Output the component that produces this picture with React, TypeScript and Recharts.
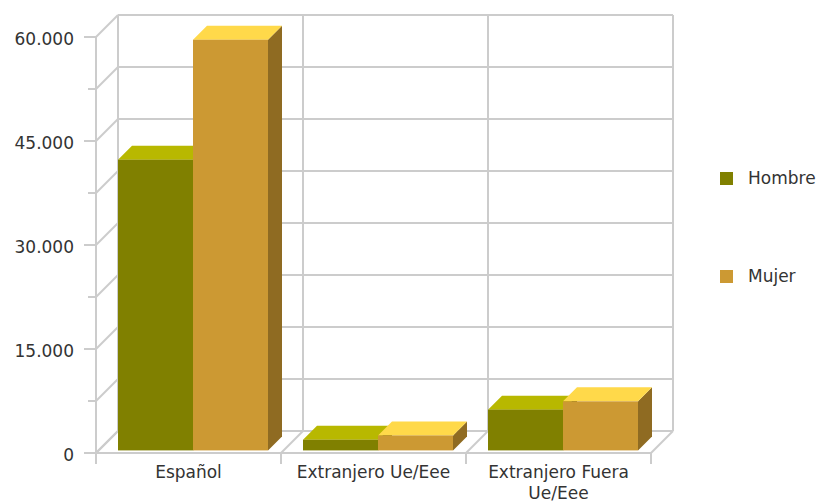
import { BarChart, Bar, XAxis, YAxis, CartesianGrid, Text } from 'recharts';

const categories = ['Español', 'Extranjero Ue/Eee', 'Extranjero Fuera Ue/Eee'];
const hombre = [41930, 1540, 5880];
const mujer = [59230, 2160, 7080];
const yTicks = [0, 7500, 15000, 22500, 30000, 37500, 45000, 52500, 60000];
const seriesNames = ['Hombre', 'Mujer'];

const data = categories.map((name, i) => ({ name, hombre: hombre[i], mujer: mujer[i] }));

const DEPTH = 22; // depth of the 3d box
const BAR_DEPTH = 14;
const GRID = '#cccccc';
const FONT = '"DejaVu Sans", sans-serif';
const TEXT = '#333333';

const colors = {
  hombre: { front: '#808000', top: '#b8b800', side: '#5c5c00' },
  mujer: { front: '#cc9933', top: '#ffd94a', side: '#8f6b22' },
};

const fmt = (v: number) => String(v).replace(/\B(?=(\d{3})+(?!\d))/g, '.');

function make3DBar(c: { front: string; top: string; side: string }) {
  return (props: any) => {
    const { x, y, width, height } = props;
    if (height == null || width == null) return null;
    // bars sit a little inside the box
    const bx = x + 4;
    const by = y - 2.6;
    const d = BAR_DEPTH;
    const r = bx + width;
    const b = by + height;
    return (
      <g>
        <polygon points={`${r},${by} ${r + d},${by - d} ${r + d},${b - d} ${r},${b}`} fill={c.side} />
        <polygon points={`${bx},${by} ${bx + d},${by - d} ${r + d},${by - d} ${r},${by}`} fill={c.top} />
        <rect x={bx} y={by} width={width} height={height} fill={c.front} />
      </g>
    );
  };
}

const horizontalLine = (p: any) => {
  const { x1, y1, x2 } = p;
  return (
    <g key={p.key}>
      <line x1={x1} y1={y1} x2={x1 + DEPTH} y2={y1 - DEPTH} stroke={GRID} strokeWidth={2} />
      <line x1={x1 + DEPTH} y1={y1 - DEPTH} x2={x2 + DEPTH} y2={y1 - DEPTH} stroke={GRID} strokeWidth={2} />
    </g>
  );
};

const verticalLine = (p: any) => {
  const { x1, y1, y2 } = p;
  return (
    <g key={p.key}>
      <line x1={x1 + DEPTH} y1={y1 - DEPTH} x2={x1 + DEPTH} y2={y2 - DEPTH} stroke={GRID} strokeWidth={2} />
      <line x1={x1} y1={y2} x2={x1 + DEPTH} y2={y2 - DEPTH} stroke={GRID} strokeWidth={2} />
      <line x1={x1} y1={y2} x2={x1} y2={y2 + 11} stroke={GRID} strokeWidth={2} />
    </g>
  );
};

const YTick = (p: any) => {
  const { x, y, payload } = p;
  const major = payload.value % 15000 === 0;
  return (
    <g>
      <line x1={x - (major ? 12 : 8)} y1={y} x2={x} y2={y} stroke={GRID} strokeWidth={2} />
      {major && (
        <text x={x - 22} y={y + 2} textAnchor="end" dominantBaseline="central"
          fontFamily={FONT} fontSize={17} fill={TEXT}>
          {fmt(payload.value)}
        </text>
      )}
    </g>
  );
};

const XTick = (p: any) => {
  const { x, y, payload } = p;
  return (
    <Text x={x} y={y + 13} width={170} textAnchor="middle" verticalAnchor="start"
      lineHeight="1.24em" fontFamily={FONT} fontSize={17} fill={TEXT}
      style={{ fontFamily: FONT, fontSize: 17 }}>
      {payload.value}
    </Text>
  );
};

export default function App() {
  return (
    <div style={{ position: 'absolute', left: 0, top: 0, width: 820, height: 504, background: '#fff' }}>
      <BarChart width={820} height={504} data={data}
        margin={{ top: 37, right: 169, bottom: 0, left: 0 }}
        barCategoryGap={18} barGap={0}>
        <CartesianGrid
          horizontal={horizontalLine}
          vertical={verticalLine}
          verticalCoordinatesGenerator={({ offset }: any) =>
            Array.from({ length: categories.length + 1 }, (_, i) => offset.left + (i * offset.width) / categories.length)
          }
        />
        <XAxis dataKey="name" height={51} interval={0} tickLine={false} tickSize={0} tickMargin={0}
          axisLine={{ stroke: GRID, strokeWidth: 2 }} tick={XTick} />
        <YAxis width={96} domain={[0, 60000]} ticks={yTicks} interval={0} tickLine={false} tickSize={0}
          tickMargin={0} axisLine={{ stroke: GRID, strokeWidth: 2 }} tick={YTick} />
        <Bar dataKey="hombre" name={seriesNames[0]} fill={colors.hombre.front}
          shape={make3DBar(colors.hombre)} isAnimationActive={false} />
        <Bar dataKey="mujer" name={seriesNames[1]} fill={colors.mujer.front}
          shape={make3DBar(colors.mujer)} isAnimationActive={false} />
      </BarChart>
      {seriesNames.map((s, i) => {
        const c = i === 0 ? colors.hombre : colors.mujer;
        const top = i === 0 ? 172 : 269.5;
        return (
          <div key={s}>
            <div style={{ position: 'absolute', left: 720, top, width: 13, height: 13, background: c.front }} />
            <div style={{ position: 'absolute', left: 748, top: top - 2, fontFamily: FONT, fontSize: 17,
              lineHeight: '17px', color: TEXT, whiteSpace: 'nowrap' }}>{s}</div>
          </div>
        );
      })}
    </div>
  );
}
